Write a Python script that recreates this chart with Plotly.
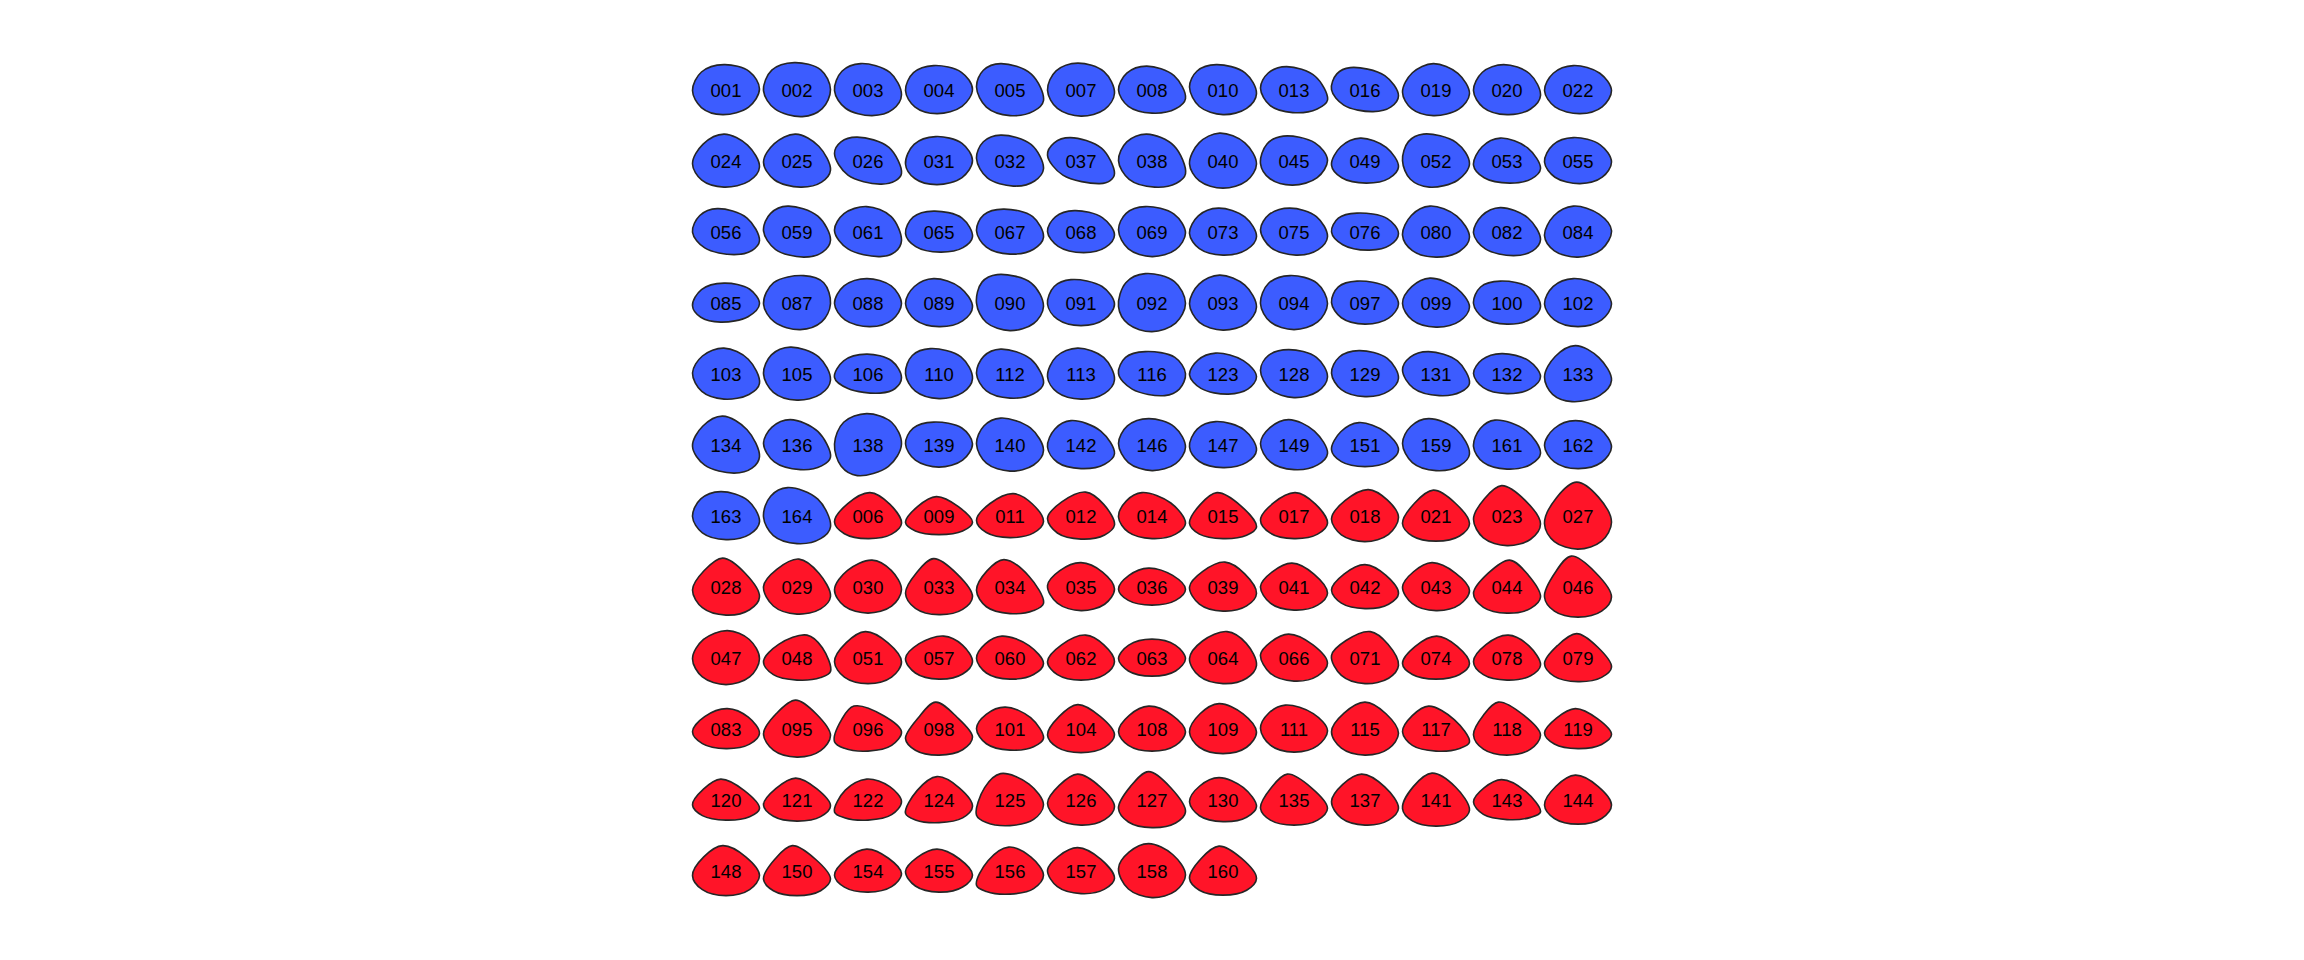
import plotly.graph_objects as go

# ---- data ----
labels = [
    "001","002","003","004","005","007","008","010","013","016","019","020","022",
    "024","025","026","031","032","037","038","040","045","049","052","053","055",
    "056","059","061","065","067","068","069","073","075","076","080","082","084",
    "085","087","088","089","090","091","092","093","094","097","099","100","102",
    "103","105","106","110","112","113","116","123","128","129","131","132","133",
    "134","136","138","139","140","142","146","147","149","151","159","161","162",
    "163","164","006","009","011","012","014","015","017","018","021","023","027",
    "028","029","030","033","034","035","036","039","041","042","043","044","046",
    "047","048","051","057","060","062","063","064","066","071","074","078","079",
    "083","095","096","098","101","104","108","109","111","115","117","118","119",
    "120","121","122","124","125","126","127","130","135","137","141","143","144",
    "148","150","154","155","156","157","158","160",
]
n_blue = 80
group = ["blue"] * n_blue + ["red"] * (len(labels) - n_blue)

# outline height (shape width = 67 units)
heights = [
    50,54,52,48,52,53,47,50,46,44,52,50,48,
    53,53,47,48,51,46,53,55,49,45,53,45,46,
    46,51,50,41,45,42,50,47,47,37,51,48,51,
    39,54,48,48,56,46,58,55,54,43,49,43,48,
    51,53,39,50,49,51,44,41,48,46,44,40,56,
    57,50,62,45,53,48,52,46,50,44,52,49,48,
    48,56,46,38,44,47,46,46,46,52,51,60,67,
    57,55,53,56,54,48,37,49,47,44,48,53,61,
    54,45,52,43,43,45,37,52,47,52,43,45,48,
    40,57,45,53,43,48,45,50,47,53,45,53,40,
    41,43,41,46,52,51,56,44,51,51,53,40,49,
    50,50,43,43,47,46,54,49,
]
# relative x of the top-most point (0 = left, 1 = right)
apex_x = [
    .47,.46,.39,.42,.36,.45,.42,.40,.39,.28,.46,.45,.43,
    .47,.48,.34,.45,.36,.34,.42,.45,.34,.43,.31,.40,.43,
    .37,.36,.48,.42,.40,.40,.40,.43,.44,.38,.41,.40,.43,
    .47,.60,.48,.42,.31,.35,.40,.45,.44,.38,.41,.40,.43,
    .47,.40,.48,.37,.36,.45,.40,.39,.42,.41,.39,.42,.46,
    .45,.40,.48,.42,.36,.35,.45,.39,.42,.41,.39,.32,.46,
    .42,.36,.53,.46,.55,.57,.35,.41,.52,.55,.46,.42,.48,
    .45,.53,.56,.42,.41,.50,.45,.53,.47,.50,.44,.54,.40,
    .52,.65,.46,.57,.38,.57,.50,.56,.42,.58,.51,.52,.48,
    .52,.48,.29,.45,.43,.45,.45,.44,.37,.50,.39,.37,.46,
    .42,.48,.48,.47,.36,.45,.45,.44,.40,.45,.44,.42,.46,
    .45,.43,.48,.47,.48,.45,.45,.44,
]
# relative height of the left-most / right-most points (0 = bottom, 1 = top)
left_y = [
    .48,.48,.48,.48,.55,.49,.49,.55,.53,.50,.45,.48,.48,
    .44,.47,.65,.43,.54,.62,.50,.44,.44,.40,.50,.40,.47,
    .49,.52,.52,.45,.52,.50,.53,.46,.54,.49,.43,.47,.42,
    .42,.48,.48,.48,.49,.47,.43,.48,.48,.50,.48,.48,.47,
    .51,.50,.40,.50,.50,.44,.50,.47,.57,.51,.58,.50,.44,
    .47,.52,.51,.52,.51,.45,.52,.45,.52,.38,.52,.46,.48,
    .48,.48,.36,.32,.39,.44,.47,.33,.40,.44,.34,.44,.38,
    .44,.50,.44,.38,.43,.52,.43,.49,.50,.42,.49,.37,.33,
    .48,.41,.42,.48,.48,.41,.47,.48,.56,.54,.36,.41,.37,
    .42,.41,.21,.31,.50,.37,.43,.43,.50,.44,.43,.38,.39,
    .37,.38,.20,.20,.20,.43,.34,.45,.33,.46,.33,.44,.39,
    .40,.33,.39,.48,.19,.51,.54,.34,
]
right_y = [
    .51,.50,.40,.51,.29,.43,.31,.42,.27,.36,.42,.38,.48,
    .38,.32,.23,.50,.34,.22,.25,.44,.51,.36,.44,.32,.47,
    .30,.33,.32,.37,.37,.42,.47,.39,.39,.45,.39,.33,.52,
    .47,.48,.48,.41,.43,.47,.49,.42,.48,.47,.41,.40,.47,
    .31,.38,.40,.40,.30,.38,.50,.43,.43,.40,.28,.42,.38,
    .29,.25,.51,.52,.39,.31,.45,.38,.32,.38,.32,.32,.45,
    .37,.30,.33,.32,.36,.30,.33,.25,.33,.47,.34,.36,.40,
    .32,.32,.44,.32,.19,.45,.43,.36,.36,.34,.42,.30,.33,
    .48,.19,.42,.40,.36,.41,.47,.35,.38,.35,.36,.33,.30,
    .38,.38,.43,.34,.27,.37,.43,.43,.46,.41,.20,.38,.35,
    .28,.35,.45,.35,.40,.36,.28,.34,.33,.33,.30,.19,.39,
    .40,.33,.43,.40,.40,.33,.42,.34,
]
# roundness of the upper outline (0.5 = pointed, 0.75 = flat/square)
top_round = [
    .72,.75,.72,.72,.72,.72,.70,.72,.70,.72,.65,.70,.68,
    .62,.62,.72,.72,.72,.70,.70,.66,.72,.65,.72,.65,.70,
    .70,.70,.70,.75,.75,.70,.72,.68,.70,.75,.65,.66,.64,
    .72,.78,.70,.66,.76,.72,.74,.66,.74,.75,.62,.76,.68,
    .66,.70,.72,.74,.70,.70,.76,.65,.72,.72,.70,.68,.60,
    .62,.66,.72,.74,.68,.66,.70,.70,.62,.62,.66,.66,.66,
    .70,.70,.55,.52,.56,.55,.62,.52,.55,.55,.52,.52,.55,
    .52,.55,.60,.50,.55,.58,.60,.55,.55,.55,.55,.50,.50,
    .66,.60,.55,.60,.60,.56,.68,.60,.55,.55,.55,.58,.50,
    .60,.50,.55,.45,.62,.52,.58,.58,.62,.55,.55,.50,.52,
    .52,.52,.62,.55,.62,.52,.50,.60,.50,.55,.55,.55,.55,
    .55,.50,.55,.55,.58,.55,.60,.52,
]
# relative x of the lowest point
bottom_x = [
    .45,.58,.56,.47,.50,.50,.50,.50,.48,.62,.46,.50,.53,
    .47,.55,.68,.47,.55,.78,.54,.50,.48,.52,.40,.54,.53,
    .62,.60,.68,.52,.50,.54,.50,.50,.53,.57,.50,.60,.50,
    .42,.55,.53,.50,.50,.50,.50,.50,.50,.50,.50,.50,.50,
    .47,.50,.68,.50,.50,.50,.69,.58,.50,.50,.55,.50,.41,
    .62,.55,.34,.50,.50,.50,.50,.50,.50,.50,.50,.50,.50,
    .50,.50,.50,.50,.50,.50,.50,.50,.50,.50,.50,.50,.50,
    .50,.50,.50,.50,.50,.50,.50,.50,.50,.50,.50,.50,.50,
    .50,.50,.50,.50,.50,.50,.50,.50,.50,.50,.50,.50,.50,
    .50,.50,.50,.50,.50,.50,.50,.50,.50,.50,.50,.50,.50,
    .50,.50,.50,.50,.50,.50,.50,.50,.50,.50,.50,.50,.50,
    .50,.50,.50,.50,.50,.50,.50,.50,
]

fill_colors = {"blue": "#3C5CFF", "red": "#FF1428"}
outline_color = "#262626"

# ---- layout constants (pixels) ----
FIG_W, FIG_H = 2304, 960
CELL = 71.0          # pixel size of one grid cell
X0_PX, Y0_PX = 726.0, 89.6   # pixel centre of first cell
SHAPE_W = 67.0       # pixel width of every outline
TEXT_DY = 3.0        # label baseline correction, pixels
NCOL = 13


def blend(p, q, corner, k):
    mx, my = (p[0] + q[0]) / 2, (p[1] + q[1]) / 2
    return (mx + (corner[0] - mx) * k, my + (corner[1] - my) * k)


fig = go.Figure()
tx, ty = [], []
for i, lab in enumerate(labels):
    c, r = i % NCOL, i // NCOL
    w = SHAPE_W / CELL
    h = heights[i] / CELL
    x0, x1 = c - w / 2, c + w / 2
    ytop, ybot = r - h / 2, r + h / 2   # y axis is reversed
    L = (x0, ybot - left_y[i] * h)
    T = (x0 + apex_x[i] * w, ytop)
    R = (x1, ybot - right_y[i] * h)
    B = (x0 + bottom_x[i] * w, ybot)
    qt = max(0.1, 0.2 + (top_round[i] - 0.5) * 1.05)
    qb = 0.41
    NW = blend(L, T, (L[0], T[1]), qt)
    NE = blend(T, R, (R[0], T[1]), qt)
    SE = blend(R, B, (R[0], B[1]), qb)
    SW = blend(B, L, (L[0], B[1]), qb)
    pts = [B, SW, L, NW, T, NE, R, SE, B]
    fig.add_trace(go.Scatter(
        x=[p[0] for p in pts], y=[p[1] for p in pts],
        mode="lines", fill="toself",
        fillcolor=fill_colors[group[i]],
        line=dict(color=outline_color, width=1.6, shape="spline", smoothing=1.0),
        hoverinfo="skip", showlegend=False,
    ))
    tx.append(c)
    ty.append(r + TEXT_DY / CELL)

fig.add_trace(go.Scatter(
    x=tx, y=ty, mode="text", text=labels,
    textposition="middle center",
    textfont=dict(family="Liberation Sans, Arial, sans-serif", size=18.5, color="#000000"),
    hoverinfo="skip", showlegend=False,
))

fig.update_layout(
    width=FIG_W, height=FIG_H,
    margin=dict(l=0, r=0, t=0, b=0),
    paper_bgcolor="white", plot_bgcolor="white",
    xaxis=dict(range=[-X0_PX / CELL, (FIG_W - X0_PX) / CELL], visible=False, fixedrange=True),
    yaxis=dict(range=[(FIG_H - Y0_PX) / CELL, -Y0_PX / CELL], visible=False, fixedrange=True),
)

fig.write_html("out.html")
